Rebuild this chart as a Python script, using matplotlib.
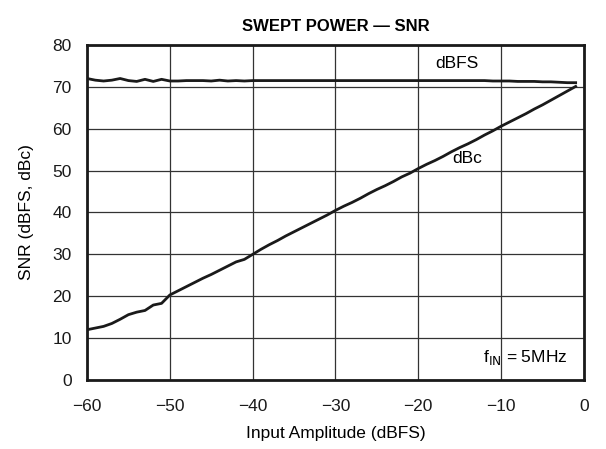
import numpy as np
import matplotlib.pyplot as plt

plt.rcParams['font.family'] = ['Liberation Sans', 'DejaVu Sans']
plt.rcParams['axes.unicode_minus'] = True

# input amplitude, dBFS
amplitude = np.arange(-60, 0)

snr_dbfs = [72.0, 71.6, 71.4, 71.6, 72.0, 71.5, 71.3, 71.8, 71.3, 71.8,
            71.4, 71.4, 71.5, 71.5, 71.5, 71.4, 71.6, 71.4, 71.5, 71.4,
            71.5, 71.5, 71.5, 71.5, 71.5, 71.5, 71.5, 71.5, 71.5, 71.5,
            71.5, 71.5, 71.5, 71.5, 71.5, 71.5, 71.5, 71.5, 71.5, 71.5,
            71.5, 71.5, 71.5, 71.5, 71.5, 71.5, 71.5, 71.5, 71.5, 71.4,
            71.4, 71.4, 71.3, 71.3, 71.3, 71.2, 71.2, 71.1, 71.0, 71.0]

snr_dbc = [12.0, 12.4, 12.8, 13.5, 14.5, 15.6, 16.2, 16.6, 17.9, 18.3,
           20.3, 21.3, 22.3, 23.3, 24.3, 25.2, 26.2, 27.2, 28.2, 28.8,
           30.0, 31.2, 32.3, 33.3, 34.4, 35.4, 36.4, 37.4, 38.4, 39.4,
           40.5, 41.5, 42.4, 43.4, 44.5, 45.5, 46.4, 47.4, 48.5, 49.4,
           50.5, 51.5, 52.4, 53.4, 54.5, 55.5, 56.4, 57.4, 58.5, 59.5,
           60.6, 61.6, 62.6, 63.6, 64.7, 65.7, 66.8, 67.9, 69.0, 70.1]

x_ticks = [-60, -50, -40, -30, -20, -10, 0]
y_ticks = [0, 10, 20, 30, 40, 50, 60, 70, 80]

fig = plt.figure(figsize=(6.06, 4.49), dpi=100)
ax = fig.add_axes([0.1436, 0.1537, 0.82, 0.7461])

ax.plot(amplitude, snr_dbfs, color='#1a1a1a', lw=2.0)
ax.plot(amplitude, snr_dbc, color='#1a1a1a', lw=2.0)

ax.set_xlim(-60, 0)
ax.set_ylim(0, 80)
ax.set_xticks(x_ticks)
ax.set_yticks(y_ticks)
ax.grid(True, color='#333333', lw=0.9)
ax.set_axisbelow(True)
for s in ax.spines.values():
    s.set_linewidth(2.0)
    s.set_color('#1a1a1a')
ax.tick_params(length=0, labelsize=12.5, colors='#1a1a1a')
ax.tick_params(axis='x', pad=14)
ax.tick_params(axis='y', pad=11)

ax.set_xlabel('Input Amplitude (dBFS)', fontsize=12.5, labelpad=8)
ax.set_ylabel('SNR (dBFS, dBc)', fontsize=12.5, labelpad=13)
ax.set_title('SWEPT POWER \u2014 SNR', fontsize=12, fontweight='bold', pad=10)

ax.text(-15.3, 75.6, 'dBFS', fontsize=12.5, ha='center', va='center')
ax.text(-14.1, 52.8, 'dBc', fontsize=12.5, ha='center', va='center')
ax.text(-2, 5.3, r'f$_{\mathrm{IN}}$ = 5MHz', fontsize=12.5, ha='right', va='center')

fig.savefig('out.png', dpi=100)
